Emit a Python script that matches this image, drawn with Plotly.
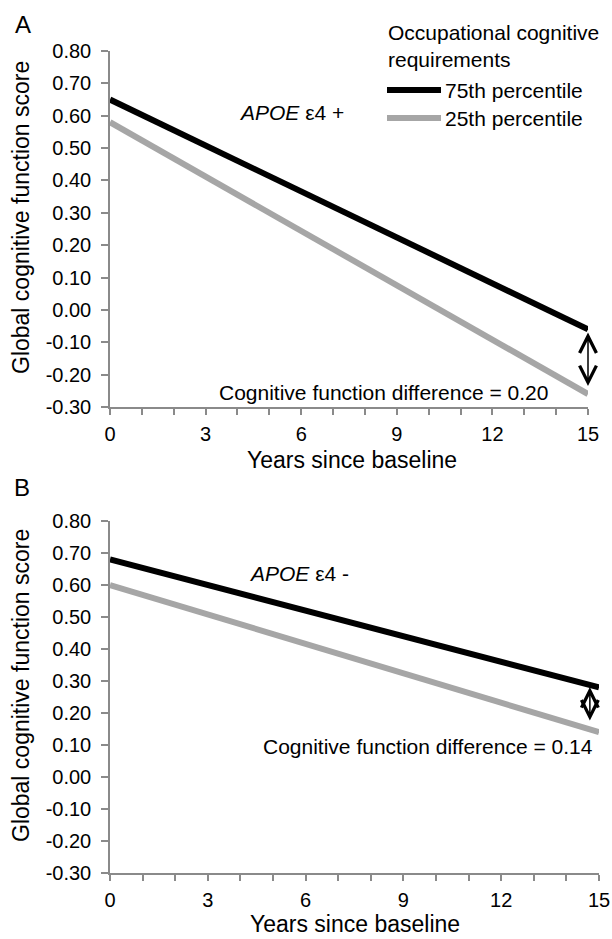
import plotly.graph_objects as go
from plotly.subplots import make_subplots

# ---------------- data ----------------
YEARS = [0, 15]
A_HIGH = [0.65, -0.06]   # 75th percentile, APOE e4 +
A_LOW = [0.58, -0.26]    # 25th percentile, APOE e4 +
B_HIGH = [0.68, 0.28]    # 75th percentile, APOE e4 -
B_LOW = [0.60, 0.14]     # 25th percentile, APOE e4 -
SERIES_NAMES = ["75th percentile", "25th percentile"]
Y_TICKS = [0.8, 0.7, 0.6, 0.5, 0.4, 0.3, 0.2, 0.1, 0.0, -0.1, -0.2, -0.3]
Y_TICK_LABELS = ["0.80", "0.70", "0.60", "0.50", "0.40", "0.30", "0.20", "0.10",
                 "0.00", "-0.10", "-0.20", "-0.30"]
X_TICKS = [0, 3, 6, 9, 12, 15]
X_TICK_LABELS = ["0", "3", "6", "9", "12", "15"]
DIFF_A = "0.20"
DIFF_B = "0.14"

# ---------------- layout helpers ----------------
FIG_W, FIG_H = 612, 939


def px_x(px):
    return px / FIG_W


def px_y(py):
    return 1 - py / FIG_H


FONT = "Liberation Sans, Arial, sans-serif"
BLACK = "#000000"
GRAY = "#a6a6a6"
AXIS = "#8a8a8a"

fig = make_subplots(rows=2, cols=1)

for row, (hi, lo) in enumerate([(A_HIGH, A_LOW), (B_HIGH, B_LOW)], start=1):
    fig.add_trace(go.Scatter(x=YEARS, y=hi, mode="lines", name=SERIES_NAMES[0],
                             line=dict(color=BLACK, width=6), showlegend=False),
                  row=row, col=1)
    fig.add_trace(go.Scatter(x=YEARS, y=lo, mode="lines", name=SERIES_NAMES[1],
                             line=dict(color=GRAY, width=6), showlegend=False),
                  row=row, col=1)

xcommon = dict(range=[0, 15], tickvals=X_TICKS, ticktext=X_TICK_LABELS,
               showline=True, linecolor=AXIS, linewidth=1.5,
               ticks="outside", ticklen=6, tickwidth=1.5, tickcolor=AXIS,
               minor=dict(dtick=1, tick0=0, ticks="outside", ticklen=6,
                          tickwidth=1.5, tickcolor=AXIS),
               showgrid=False, zeroline=False, fixedrange=True, automargin=False,
               tickfont=dict(family=FONT, size=20, color="#000"),
               ticklabelstandoff=2)
ycommon = dict(range=[-0.3, 0.8], tickvals=Y_TICKS, ticktext=Y_TICK_LABELS,
               showline=True, linecolor=AXIS, linewidth=1.5,
               ticks="outside", ticklen=7, tickwidth=1.5, tickcolor=AXIS,
               showgrid=False, zeroline=False, fixedrange=True, automargin=False,
               tickfont=dict(family=FONT, size=20, color="#000"),
               ticklabelstandoff=6)

fig.update_layout(
    xaxis=dict(domain=[px_x(110), px_x(588)], anchor="y", **xcommon),
    yaxis=dict(domain=[px_y(407), px_y(51)], anchor="x", **ycommon),
    xaxis2=dict(domain=[px_x(110), px_x(599)], anchor="y2", **xcommon),
    yaxis2=dict(domain=[px_y(873), px_y(521)], anchor="x2", **ycommon),
)


def txt(text, x, y, size=21, xref="paper", yref="paper", xanchor="center",
        yanchor="middle", **kw):
    return dict(text=text, x=x, y=y, xref=xref, yref=yref, xanchor=xanchor,
                yanchor=yanchor, showarrow=False,
                font=dict(family=FONT, size=size, color="#000"), **kw)


ann = []
# panel letters
ann.append(txt("A", px_x(23), px_y(24), size=24))
ann.append(txt("B", px_x(22), px_y(487), size=24))
# axis titles
for yc, xc, yt in [(218, 352, 460), (686, 355, 924)]:
    ann.append(txt("Global cognitive function score", px_x(21), px_y(yc), size=23,
                   textangle=-90))
    ann.append(txt("Years since baseline", px_x(xc), px_y(yt), size=23))

# legend (panel A)
ann.append(txt("Occupational cognitive<br>requirements", px_x(386), px_y(46),
               xanchor="left", align="left"))
for name, color, yy in [(SERIES_NAMES[0], BLACK, 90), (SERIES_NAMES[1], GRAY, 118)]:
    fig.add_shape(type="line", xref="paper", yref="paper",
                  x0=px_x(387), x1=px_x(441), y0=px_y(yy), y1=px_y(yy),
                  line=dict(color=color, width=6))
    ann.append(txt(name, px_x(443), px_y(yy), xanchor="left"))

# in-plot texts
ann.append(txt("<i>APOE</i> ε4 +", 5.7, 0.61, xref="x", yref="y"))
ann.append(txt("<i>APOE</i> ε4 -", 5.8, 0.635, xref="x2", yref="y2"))
ann.append(txt("Cognitive function difference = " + DIFF_A, 8.58, -0.254,
               xref="x", yref="y"))
ann.append(txt("Cognitive function difference = " + DIFF_B, 9.75, 0.095,
               xref="x2", yref="y2"))

# double-headed arrows
ann.append(dict(x=15, y=-0.07, ax=15, ay=-0.24, xref="x", yref="y", axref="x", ayref="y",
                text="", showarrow=True, arrowside="end+start", arrowhead=5,
                startarrowhead=5, arrowsize=2.2, startarrowsize=2.2, arrowwidth=1.5,
                arrowcolor=BLACK, standoff=0, startstandoff=0))
ann.append(dict(x=14.72, y=0.281, ax=14.72, ay=0.172, xref="x2", yref="y2",
                axref="x2", ayref="y2",
                text="", showarrow=True, arrowside="end+start", arrowhead=5,
                startarrowhead=5, arrowsize=2.2, startarrowsize=2.2, arrowwidth=1.5,
                arrowcolor=BLACK, standoff=0, startstandoff=0))

fig.update_layout(
    width=FIG_W, height=FIG_H,
    margin=dict(l=0, r=0, t=0, b=0, autoexpand=False),
    paper_bgcolor="white", plot_bgcolor="white",
    showlegend=False,
    annotations=ann,
    font=dict(family=FONT, color="#000"),
)

fig.write_html("out.html", config={"displayModeBar": False},
               post_script="document.body.style.margin='0';"
                           "document.body.style.overflow='hidden';")
